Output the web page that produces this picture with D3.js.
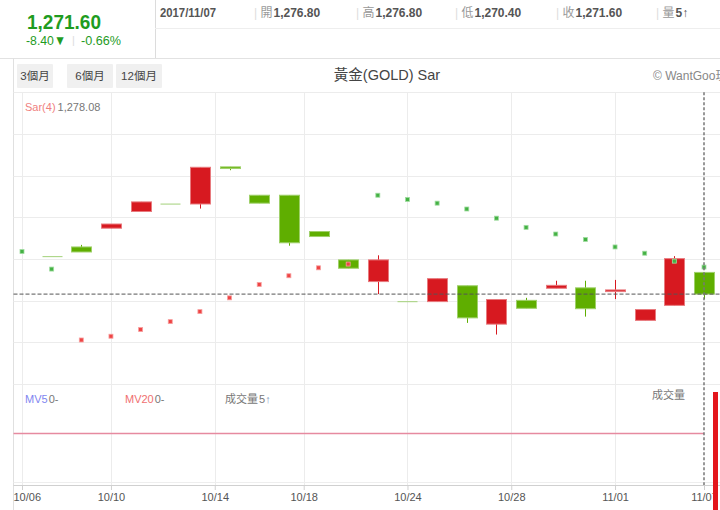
<!DOCTYPE html>
<html>
<head>
<meta charset="utf-8">
<script src="https://cdn.jsdelivr.net/npm/d3@7/dist/d3.min.js"></script>
<style>
  html, body { margin: 0; padding: 0; background: #fff; }
  svg { display: block; font-family: "Liberation Sans", "Noto Sans CJK TC", sans-serif; }
</style>
</head>
<body>
<svg id="chart" width="720" height="510"></svg>
<script>
// ---------------- data ----------------
const opens  = [null, 1280.7, 1282.9, 1287.4, 1291.4, 1293.3, 1293.2, 1302.1, 1295.3, 1295.3, 1286.6, 1279.8, 1274.6, 1269.9, 1269.8, 1273.6, 1264.4, 1270.1, 1273.0, 1273.1, 1272.2, 1265.3, 1268.9, 1276.8];
const highs  = [null, 1280.7, 1283.4, 1288.4, 1293.7, 1293.3, 1302.0, 1302.1, 1295.3, 1295.3, 1286.6, 1279.8, 1280.9, 1269.9, 1275.3, 1273.6, 1270.3, 1270.7, 1274.8, 1274.8, 1275.0, 1267.9, 1280.7, 1276.8];
const lows   = [null, 1280.7, 1281.7, 1287.4, 1291.4, 1293.3, 1292.1, 1301.3, 1293.4, 1283.2, 1285.4, 1277.8, 1271.6, 1269.9, 1269.8, 1264.7, 1261.9, 1268.2, 1273.0, 1266.2, 1270.4, 1265.3, 1268.9, 1270.4];
const closes = [null, 1280.7, 1281.7, 1288.4, 1293.7, 1293.3, 1302.0, 1301.7, 1293.4, 1283.9, 1285.4, 1277.8, 1279.8, 1269.9, 1275.3, 1265.9, 1270.3, 1268.2, 1273.7, 1268.1, 1272.6, 1267.9, 1280.1, 1271.6];
const sar    = [1281.8, 1277.6, 1260.6, 1261.5, 1263.1, 1265.0, 1267.4, 1270.7, 1273.9, 1276.0, 1277.9, 1278.8, 1295.3, 1294.3, 1293.4, 1292.0, 1289.8, 1287.6, 1286.0, 1284.7, 1282.9, 1281.4, 1279.5, 1278.08];
const sarUp  = [false, false, true, true, true, true, true, true, true, true, true, true, false, false, false, false, false, false, false, false, false, false, false, false];
const volumes = [0, 0, 0, 0, 0, 0, 0, 0, 0, 0, 0, 0, 0, 0, 0, 0, 0, 0, 0, 0, 0, 0, 0, 5];
const mv20   = [2.5, 2.5, 2.5, 2.5, 2.5, 2.5, 2.5, 2.5, 2.5, 2.5, 2.5, 2.5, 2.5, 2.5, 2.5, 2.5, 2.5, 2.5, 2.5, 2.5, 2.5, 2.5, 2.5, 2.5];
const tickIdx    = [0, 3, 6.5, 9.5, 13, 16.5, 20, 23];
const tickLabels = ["10/06", "10/10", "10/14", "10/18", "10/24", "10/28", "11/01", "11/07"];
const priceTicks = [1260, 1270, 1280, 1290, 1300, 1310];
const lastPrice = 1271.60;
const headerItems = [["開", "1,276.80"], ["高", "1,276.80"], ["低", "1,270.40"], ["收", "1,271.60"], ["量", "5↑"]];
const rangeButtons = ["3個月", "6個月", "12個月"];

// ---------------- setup ----------------
const svg = d3.select("#chart");
const W = 720, H = 510;
const RED = "#d71920", GREEN = "#5fae00", GRID = "#ececec";
const CJK = "'Liberation Sans','Noto Sans CJK TC',sans-serif";

const x = d3.scaleLinear().domain([0, 23]).range([22, 704]);
const y = d3.scaleLinear().domain([1250, 1320]).range([384.2, 92.2]);
const yVol = d3.scaleLinear().domain([0, 5]).range([475, 392]);
const paneLeft = 13.5, priceTop = 92.2, volBottom = 485;

// ---------------- header ----------------
svg.append("line").attr("x1", 155.5).attr("x2", 155.5).attr("y1", 0).attr("y2", 58).attr("stroke", "#dcdcdc");
svg.append("line").attr("x1", 155).attr("x2", W).attr("y1", 28.5).attr("y2", 28.5).attr("stroke", "#eeeeee");
svg.append("line").attr("x1", 0).attr("x2", W).attr("y1", 58.5).attr("y2", 58.5).attr("stroke", "#e2e2e2");

svg.append("text").attr("x", 27).attr("y", 28.5).attr("font-size", 21).attr("font-weight", "bold")
  .attr("textLength", 74).attr("lengthAdjust", "spacingAndGlyphs")
  .attr("fill", "#1f9c1f").text("1,271.60");
svg.append("text").attr("x", 26).attr("y", 44.5).attr("font-size", 13.5).attr("fill", "#1f9c1f")
  .attr("textLength", 40).attr("lengthAdjust", "spacingAndGlyphs").text("-8.40▼");
svg.append("text").attr("x", 72).attr("y", 44).attr("font-size", 11).attr("fill", "#dddddd").text("|");
svg.append("text").attr("x", 81).attr("y", 44.5).attr("font-size", 13.5).attr("fill", "#1f9c1f")
  .attr("textLength", 40).attr("lengthAdjust", "spacingAndGlyphs").text("-0.66%");

svg.append("text").attr("x", 160).attr("y", 17).attr("font-size", 12).attr("font-weight", "bold")
  .attr("fill", "#555").attr("textLength", 56).attr("lengthAdjust", "spacingAndGlyphs").text("2017/11/07");
const headerX = [254, 356, 455, 556, 656];
headerItems.forEach((d, i) => {
  const t = svg.append("text").attr("x", headerX[i]).attr("y", 17).attr("font-size", 12).attr("font-family", CJK);
  t.append("tspan").attr("fill", "#dddddd").text("| ");
  t.append("tspan").attr("fill", "#999").text(d[0]);
  t.append("tspan").attr("fill", "#555").attr("font-weight", "bold").attr("dx", 1).text(d[1]);
});

// range buttons
const btnX = [17, 67, 116], btnW = [36, 46, 46];
rangeButtons.forEach((b, i) => {
  svg.append("rect").attr("x", btnX[i]).attr("y", 64).attr("width", btnW[i]).attr("height", 24)
    .attr("fill", "#f0f0f0").attr("rx", 1);
  svg.append("text").attr("x", btnX[i] + btnW[i] / 2).attr("y", 80).attr("text-anchor", "middle")
    .attr("font-size", 11.5).attr("fill", "#444").attr("font-family", CJK).text(b);
});
svg.append("text").attr("x", 387).attr("y", 80).attr("text-anchor", "middle").attr("font-size", 14.5)
  .attr("fill", "#444").attr("font-family", CJK).text("黃金(GOLD) Sar");
svg.append("text").attr("x", 653).attr("y", 80).attr("font-size", 12).attr("fill", "#888")
  .attr("font-family", CJK).text("© WantGoo玩");

// ---------------- grid ----------------
svg.append("line").attr("x1", paneLeft).attr("x2", paneLeft).attr("y1", 58).attr("y2", H).attr("stroke", "#e0e0e0");
const grid = svg.append("g");
grid.selectAll("line.h").data([1250, ...priceTicks, 1320]).join("line")
  .attr("x1", paneLeft).attr("x2", W).attr("y1", d => Math.round(y(d)) + 0.5).attr("y2", d => Math.round(y(d)) + 0.5)
  .attr("stroke", GRID);
grid.selectAll("line.v").data(tickIdx.slice(0, -1)).join("line")
  .attr("x1", d => Math.round(x(d)) + 0.5).attr("x2", d => Math.round(x(d)) + 0.5)
  .attr("y1", priceTop).attr("y2", volBottom).attr("stroke", GRID);
svg.append("line").attr("x1", paneLeft).attr("x2", W).attr("y1", 482.5).attr("y2", 482.5).attr("stroke", "#eeeeee");

// x axis
const xAxis = d3.axisBottom(x).tickValues(tickIdx).tickFormat((d, i) => tickLabels[i]).tickSize(5).tickPadding(3);
const ax = svg.append("g").attr("transform", `translate(0,${volBottom})`).call(xAxis);
ax.select(".domain").attr("stroke", "#d0d0d0").attr("d", `M${paneLeft},0.5H${W}`);
ax.selectAll(".tick line").attr("stroke", "#d0d0d0");
ax.selectAll(".tick text").attr("fill", "#555").attr("font-size", 11).attr("font-family", CJK);
ax.selectAll(".tick text").each(function () {
  const bb = this.getBBox();
  const tx = +d3.select(this.parentNode).attr("transform").match(/translate\(([-\d.]+)/)[1];
  if (tx + bb.x < paneLeft) d3.select(this).attr("dx", paneLeft - (tx + bb.x));
});

// ---------------- price pane ----------------
svg.append("clipPath").attr("id", "pclip").append("rect")
  .attr("x", paneLeft).attr("y", priceTop).attr("width", W - paneLeft).attr("height", 384.2 - priceTop);
const price = svg.append("g").attr("clip-path", "url(#pclip)");

const idx = d3.range(opens.length).filter(i => opens[i] !== null);
const col = i => closes[i] > opens[i] ? RED : GREEN;
const stroke = i => closes[i] > opens[i] ? "#e87a7e" : "#9fd06a";

price.selectAll("line.wick").data(idx).join("line")
  .attr("x1", i => Math.round(x(i)) + 0.5).attr("x2", i => Math.round(x(i)) + 0.5)
  .attr("y1", i => y(highs[i])).attr("y2", i => y(lows[i]))
  .attr("stroke", i => col(i)).attr("stroke-width", 1);
price.selectAll("rect.body").data(idx).join("rect")
  .attr("x", i => Math.round(x(i)) - 9.5).attr("width", 20)
  .attr("y", i => y(Math.max(opens[i], closes[i])))
  .attr("height", i => Math.max(1, Math.abs(y(opens[i]) - y(closes[i]))))
  .attr("fill", i => opens[i] === closes[i] ? "#a3d17a" : col(i))
  .attr("stroke", i => opens[i] === closes[i] ? "none" : stroke(i)).attr("stroke-width", 1);

price.selectAll("rect.sar").data(d3.range(sar.length)).join("rect")
  .attr("x", i => x(i) - 2).attr("y", i => y(sar[i]) - 2).attr("width", 4).attr("height", 4)
  .attr("fill", i => sarUp[i] ? "#ee4444" : "#44b144")
  .attr("stroke", i => sarUp[i] ? "#f7a0a0" : "#a0dca0").attr("stroke-width", 0.8);

// current price dashed line
svg.append("line").attr("x1", paneLeft).attr("x2", W).attr("y1", y(lastPrice)).attr("y2", y(lastPrice))
  .attr("stroke", "#555").attr("stroke-dasharray", "4,2");

svg.append("text").attr("x", 25).attr("y", 111).attr("font-size", 11).attr("font-family", CJK)
  .call(t => { t.append("tspan").attr("fill", "#f07f7f").text("Sar(4)"); t.append("tspan").attr("fill", "#777").attr("dx", 2).text("1,278.08"); });

// ---------------- volume pane ----------------
const mvPts = [[x.invert(paneLeft), mv20[0]], ...mv20.map((d, i) => [i, d])];
const mvLine = d3.line().x(d => x(d[0])).y(d => yVol(d[1]));
svg.append("path").datum(mvPts).attr("d", mvLine).attr("fill", "none").attr("stroke", "#e68aa0").attr("stroke-width", 1.6);
svg.selectAll("rect.vol").data(d3.range(volumes.length).filter(i => volumes[i] > 0)).join("rect")
  .attr("x", i => x(i) + 9).attr("width", 5)
  .attr("y", i => yVol(volumes[i])).attr("height", i => H + 10 - yVol(volumes[i]))
  .attr("fill", "#e3161c");

svg.append("text").attr("x", 25).attr("y", 403).attr("font-size", 11).attr("font-family", CJK)
  .call(t => { t.append("tspan").attr("fill", "#7f86f0").text("MV5"); t.append("tspan").attr("fill", "#777").attr("dx", 1).text("0-"); });
svg.append("text").attr("x", 125).attr("y", 403).attr("font-size", 11).attr("font-family", CJK)
  .call(t => { t.append("tspan").attr("fill", "#f07070").text("MV20"); t.append("tspan").attr("fill", "#777").attr("dx", 1).text("0-"); });
svg.append("text").attr("x", 225).attr("y", 403).attr("font-size", 11).attr("font-family", CJK)
  .call(t => { t.append("tspan").attr("fill", "#777").text("成交量"); t.append("tspan").attr("fill", "#777").attr("dx", 1).text("5"); t.append("tspan").attr("fill", "#8aa0c0").text("↑"); });
svg.append("text").attr("x", 652).attr("y", 399).attr("font-size", 11).attr("fill", "#777")
  .attr("font-family", CJK).text("成交量");

// crosshair at last bar
svg.append("line").attr("x1", x(23)).attr("x2", x(23)).attr("y1", priceTop).attr("y2", volBottom)
  .attr("stroke", "#777").attr("stroke-width", 1.5).attr("stroke-dasharray", "3,2");
</script>
</body>
</html>
